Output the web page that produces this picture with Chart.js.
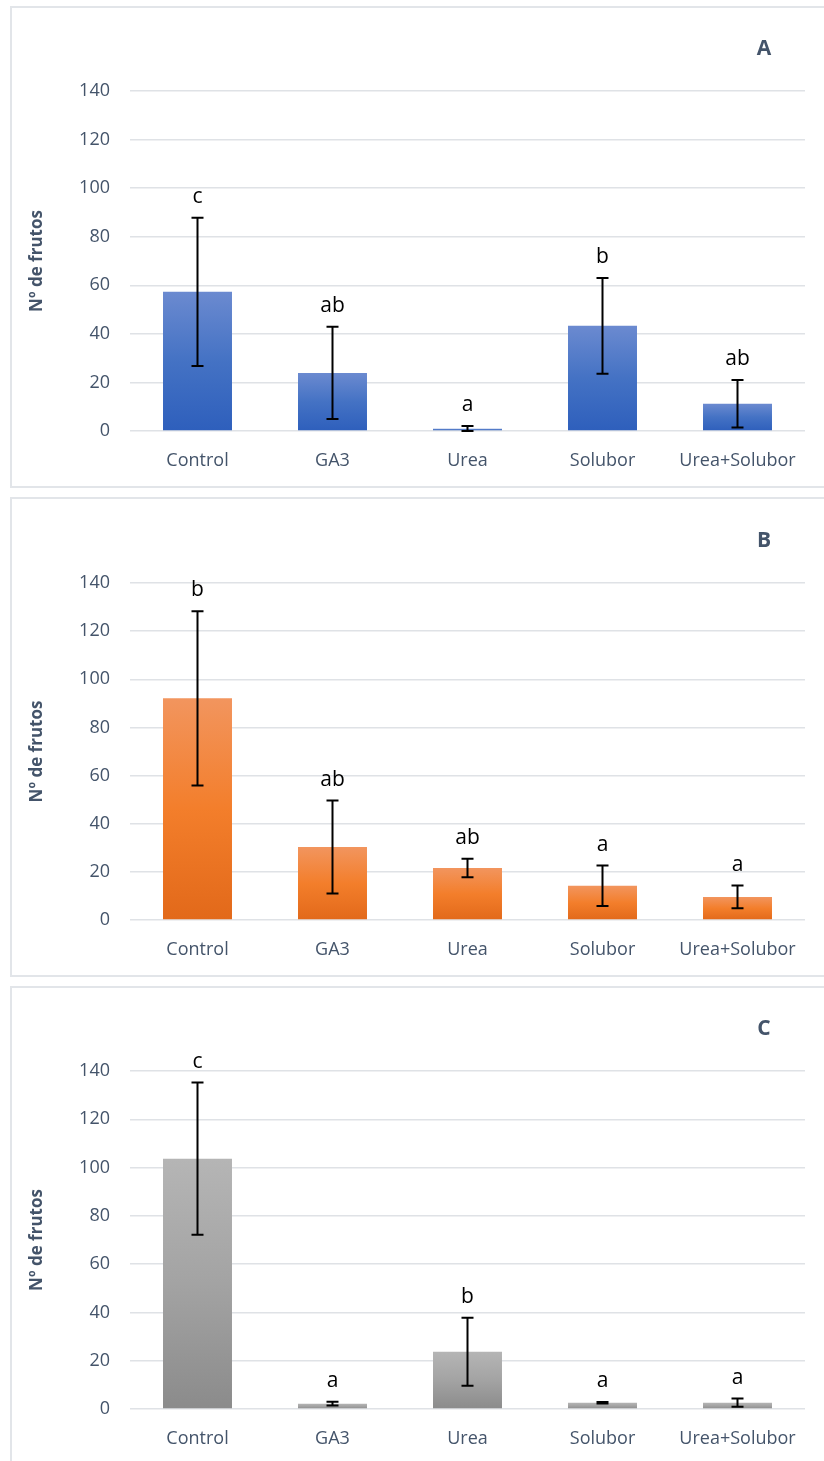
<!DOCTYPE html>
<html>
<head>
<meta charset="utf-8">
<script src="https://cdn.jsdelivr.net/npm/chart.js@4.4.1/dist/chart.umd.min.js"></script>
<style>
  html, body { margin: 0; padding: 0; background: #fff; width: 824px; height: 1461px; overflow: hidden; position: relative; }
  .panel { position: absolute; left: 10px; width: 840px; box-sizing: border-box; border: 2px solid #e2e5e9; background: #fff; }
  canvas { position: absolute; left: 0; }
</style>
</head>
<body>
<div class="panel" style="top:6px;height:482px"></div>
<div class="panel" style="top:497px;height:480px"></div>
<div class="panel" style="top:986px;height:490px"></div>
<canvas id="cA" width="824" height="492" style="top:0px"></canvas>
<canvas id="cB" width="824" height="489" style="top:492px"></canvas>
<canvas id="cC" width="824" height="480" style="top:981px"></canvas>
<script>
// Treatments and y-axis ticks
const categories = ['Control', 'GA3', 'Urea', 'Solubor', 'Urea+Solubor'];
const yTicks = [0, 20, 40, 60, 80, 100, 120, 140];

// Panel A: mean fruit number, error (±) and significance letters
const meansA = [57.3, 23.9, 0.9, 43.3, 11.2];
const errA = [30.5, 19.0, 1.2, 19.7, 9.8];
const lettersA = ['c', 'ab', 'a', 'b', 'ab'];

// Panel B
const meansB = [92.1, 30.3, 21.6, 14.2, 9.6];
const errB = [36.2, 19.3, 3.8, 8.4, 4.7];
const lettersB = ['b', 'ab', 'ab', 'a', 'a'];

// Panel C
const meansC = [103.7, 2.2, 23.7, 2.6, 2.6];
const errC = [31.5, 0.8, 14.1, 0.3, 1.7];
const lettersC = ['c', 'a', 'b', 'a', 'a'];

const TEXT = '#44546A';
const FONT = '"Open Sans", "Noto Sans", sans-serif';

// Error bars, letters, panel tag and y-axis title
const annotations = {
  id: 'annotations',
  afterDatasetsDraw(chart, args, o) {
    const { ctx, scales: { x, y }, chartArea } = chart;
    ctx.save();
    ctx.strokeStyle = '#000';
    ctx.lineWidth = 2;
    o.means.forEach((m, i) => {
      const cx = x.getPixelForValue(i);
      const hi = y.getPixelForValue(m + o.errs[i]);
      const lo = y.getPixelForValue(Math.max(0, m - o.errs[i]));
      ctx.beginPath();
      ctx.moveTo(cx, hi); ctx.lineTo(cx, lo);
      ctx.moveTo(cx - 6, hi); ctx.lineTo(cx + 6, hi);
      ctx.moveTo(cx - 6, lo); ctx.lineTo(cx + 6, lo);
      ctx.stroke();
      ctx.fillStyle = '#000';
      ctx.font = '21px ' + FONT;
      ctx.textAlign = 'center';
      ctx.textBaseline = 'middle';
      ctx.fillText(o.letters[i], cx, hi - 21);
    });
    // panel tag
    ctx.fillStyle = TEXT;
    ctx.font = 'bold 21px ' + FONT;
    ctx.textAlign = 'center';
    ctx.textBaseline = 'middle';
    ctx.fillText(o.tag, 764, chartArea.top - 42);
    // y-axis title
    ctx.translate(37, (chartArea.top + chartArea.bottom) / 2);
    ctx.rotate(-Math.PI / 2);
    ctx.font = 'bold 17px ' + FONT;
    ctx.fillText('Nº de frutos', 0, 0);
    ctx.restore();
  }
};

function gradientFill(stops, means) {
  return (c) => {
    const chart = c.chart;
    const fallback = stops[1];
    if (!chart.chartArea || !chart.scales.y) return fallback;
    const y = chart.scales.y;
    const top = y.getPixelForValue(means[c.dataIndex]);
    const base = y.getPixelForValue(0);
    if (!isFinite(top) || !isFinite(base) || base - top < 0.5) return fallback;
    const g = chart.ctx.createLinearGradient(0, top, 0, base);
    g.addColorStop(0, stops[0]);
    g.addColorStop(0.5, stops[1]);
    g.addColorStop(1, stops[2]);
    return g;
  };
}

function makeChart(id, means, errs, letters, tag, stops, plotTop, plotBottom) {
  const canvas = document.getElementById(id);
  const H = canvas.height;
  return new Chart(canvas, {
    type: 'bar',
    data: {
      labels: categories,
      datasets: [{
        data: means,
        backgroundColor: gradientFill(stops, means),
        borderWidth: 0,
        categoryPercentage: 1,
        barPercentage: 0.511
      }]
    },
    options: {
      responsive: false,
      animation: false,
      devicePixelRatio: 1,
      layout: { padding: { left: 0, right: 19, top: plotTop, bottom: 0 } },
      plugins: {
        legend: { display: false },
        tooltip: { enabled: false },
        annotations: { means, errs, letters, tag }
      },
      scales: {
        x: {
          grid: { display: false },
          border: { display: false },
          ticks: { color: TEXT, font: { family: FONT, size: 18 }, padding: 11, maxRotation: 0 },
          afterFit: (s) => { s.height = H - plotBottom; }
        },
        y: {
          min: 0, max: 140,
          afterBuildTicks: (s) => { s.ticks = yTicks.map(v => ({ value: v })); },
          grid: { color: '#dfe2e6', lineWidth: 1.5, drawTicks: false },
          border: { display: false },
          ticks: { color: TEXT, font: { family: FONT, size: 18 }, padding: 20 },
          afterFit: (s) => { s.width = 130; }
        }
      }
    },
    plugins: [annotations]
  });
}

makeChart('cA', meansA, errA, lettersA, 'A', ['#6b8ad0', '#4472c4', '#2e5fbc'], 91, 431);
makeChart('cB', meansB, errB, lettersB, 'B', ['#f2955e', '#f37e2b', '#e2691a'], 91, 428);
makeChart('cC', meansC, errC, lettersC, 'C', ['#b5b5b5', '#a3a3a3', '#8b8b8b'], 90, 428);
</script>
</body>
</html>
